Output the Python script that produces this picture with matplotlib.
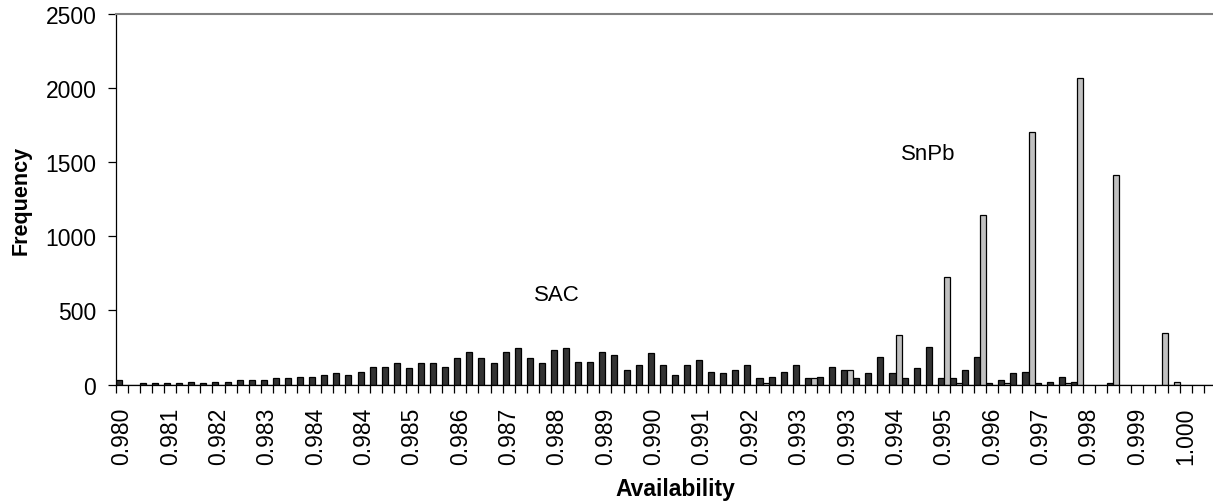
import matplotlib
matplotlib.use("Agg")
import matplotlib.pyplot as plt
import numpy as np

plt.rcParams['font.family'] = ['Liberation Sans', 'DejaVu Sans']

# frequency per availability bin (91 bins, left to right)
sac = [30, 0, 10, 10, 10, 10, 19, 10, 19, 19,
       30, 30, 30, 42, 42, 53, 53, 64, 76, 64,
       87, 120, 120, 143, 110, 143, 143, 120, 177, 222,
       177, 143, 222, 245, 177, 143, 233, 245, 154, 154,
       222, 199, 98, 132, 211, 132, 64, 132, 166, 87,
       76, 98, 132, 42, 53, 87, 132, 42, 53, 120,
       98, 42, 76, 188, 76, 42, 110, 254, 42, 42,
       98, 188, 8, 32, 76, 87, 8, 15, 53, 17,
       0, 0, 8, 0, 0, 0, 0, 0, 0, 0,
       0]
snpb = [0, 0, 0, 0, 0, 0, 0, 0, 0, 0,
        0, 0, 0, 0, 0, 0, 0, 0, 0, 0,
        0, 0, 0, 0, 0, 0, 0, 0, 0, 0,
        0, 0, 0, 0, 0, 0, 0, 0, 0, 0,
        0, 0, 0, 0, 0, 0, 0, 0, 0, 0,
        0, 0, 0, 10, 0, 0, 0, 42, 0, 0,
        98, 0, 0, 0, 335, 0, 0, 0, 724, 8,
        0, 1144, 0, 8, 0, 1704, 0, 0, 8, 2066,
        0, 0, 1414, 0, 0, 0, 349, 20, 0, 0,
        0]
# every fourth bin is labelled
bin_labels = ['0.980', '0.981', '0.982', '0.983', '0.984', '0.984', '0.985',
              '0.986', '0.987', '0.988', '0.989', '0.990', '0.991', '0.992',
              '0.993', '0.993', '0.994', '0.995', '0.996', '0.997', '0.998',
              '0.999', '1.000']

n = len(sac)
x = np.arange(n)

fig = plt.figure(figsize=(12.13, 5.02), dpi=100)
ax = fig.add_axes([0.0954, 0.232, 0.907, 0.738])

w = 0.5
ax.bar(x - w / 2, sac, width=w, color='#333333', edgecolor='black', linewidth=0.9)
ax.bar(x + w / 2, snpb, width=w, color='#c0c0c0', edgecolor='black', linewidth=0.9)

ax.set_xlim(-0.5, n - 0.5)
ax.set_ylim(0, 2500)
ax.set_yticks(np.arange(0, 2501, 500))

# tick marks sit between bins, labels under bins
ax.set_xticks(np.arange(n + 1) - 0.5)
ax.set_xticklabels([])
ax.set_xticks(x[::4], minor=True)
ax.set_xticklabels(bin_labels, minor=True, rotation=90, fontsize=16.5)
ax.tick_params(axis='x', which='major', length=6, width=0.9, direction='out')
ax.tick_params(axis='x', which='minor', length=0, pad=16)
ax.tick_params(axis='y', length=6, width=0.9, labelsize=16.5, pad=8)

ax.spines['right'].set_visible(False)
ax.spines['top'].set_color('#808080')
ax.spines['top'].set_linewidth(1.5)
ax.spines['left'].set_linewidth(0.9)
ax.spines['bottom'].set_linewidth(0.9)

ax.text(36, 606, 'SAC', fontsize=16, ha='center', va='center')
ax.text(66.7, 1562, 'SnPb', fontsize=16, ha='center', va='center')

ax.set_xlabel('Availability', fontsize=16.5, fontweight='bold')
ax.xaxis.set_label_coords(0.5085, -0.25)
ax.set_ylabel('Frequency', fontsize=15.5, fontweight='bold', labelpad=10)

fig.savefig('out.png', dpi=100)
